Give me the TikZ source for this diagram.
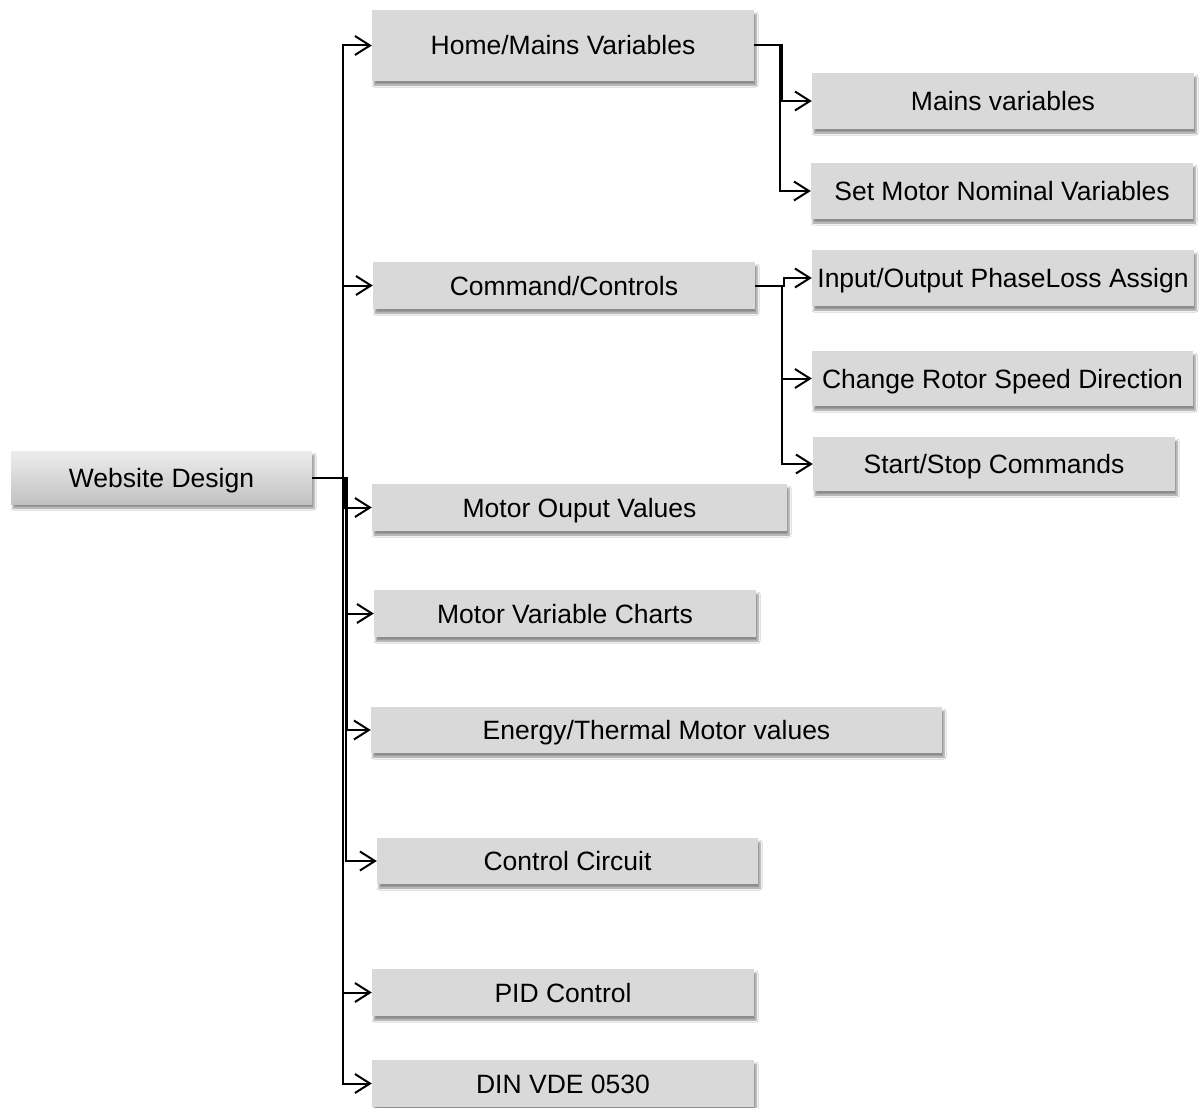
\documentclass[tikz,border=0pt]{standalone}
\usepackage{fontspec}
\setmainfont{Liberation Sans}
\usetikzlibrary{arrows.meta,shadows,shadows.blur}
\definecolor{boxfill}{HTML}{D9D9D9}
\definecolor{roottop}{HTML}{EDEDED}
\definecolor{rootbot}{HTML}{C2C2C2}
\tikzset{
  box/.style={fill=boxfill, draw=none, inner sep=0pt, align=center,
    text height=24pt, text depth=5pt,
    font=\fontsize{26.5}{30}\selectfont,
    blur shadow={shadow xshift=2pt, shadow yshift=-4pt, shadow opacity=45, shadow blur steps=6, shadow blur radius=2pt}},
  rootbox/.style={box, fill=none, top color=roottop, bottom color=rootbot},
  link/.style={line width=2pt, -{Straight Barb[length=15pt,width=19pt]}},
}
\begin{document}
\begin{tikzpicture}[x=1pt,y=-1pt]
\useasboundingbox[fill=white] (0,0) rectangle (1200,1108);

% root
\node[rootbox, minimum width=301pt, minimum height=53pt] (root) at (161.5,477.5) {Website Design};

% first level
\node[box, minimum width=382pt, minimum height=71pt] (home)   at (563,45.5)  {Home/Mains Variables};
\node[box, minimum width=382pt, minimum height=47pt] (cmd)    at (564,285.5) {Command/Controls};
\node[box, minimum width=415pt, minimum height=47pt] (out)    at (579.5,507.5) {Motor Ouput Values};
\node[box, minimum width=382pt, minimum height=47pt] (charts) at (565,613.5) {Motor Variable Charts};
\node[box, minimum width=571pt, minimum height=46pt] (energy) at (656.5,730) {Energy/Thermal Motor values};
\node[box, minimum width=381pt, minimum height=46pt] (ctrl)   at (567.5,861) {Control Circuit};
\node[box, minimum width=382pt, minimum height=47pt] (pid)    at (563,992.5) {PID Control};
\node[box, minimum width=382pt, minimum height=47pt] (din)    at (563,1083.5) {DIN VDE 0530};

% second level under Home/Mains Variables
\node[box, minimum width=382pt, minimum height=56pt] (mains)   at (1003,101) {Mains variables};
\node[box, minimum width=382pt, minimum height=56pt] (nominal) at (1002,191) {Set Motor Nominal Variables};

% second level under Command/Controls
\node[box, minimum width=382pt, minimum height=56pt] (phase) at (1003,278)   {Input/Output PhaseLoss Assign};
\node[box, minimum width=381pt, minimum height=55pt] (dir)   at (1002.5,378.5) {Change Rotor Speed Direction};
\node[box, minimum width=362pt, minimum height=54pt] (start) at (994,464)    {Start/Stop Commands};

% connectors from the root
\foreach \child/\dx in {home/31, cmd/31, out/33, charts/34, energy/35, ctrl/34, pid/31, din/31}
  \draw[link] (root.east) -- ++(\dx,0) |- (\child.west);

% connectors from Home/Mains Variables
\draw[link] (home.east) -- ++(28,0) |- (mains.west);
\draw[link] (home.east) -- ++(26,0) |- (nominal.west);

% connectors from Command/Controls
\draw[link] (cmd.east) -- ++(29,0) |- (phase.west);
\draw[link] (cmd.east) -- ++(27,0) |- (dir.west);
\draw[link] (cmd.east) -- ++(27,0) |- (start.west);
\end{tikzpicture}
\end{document}
